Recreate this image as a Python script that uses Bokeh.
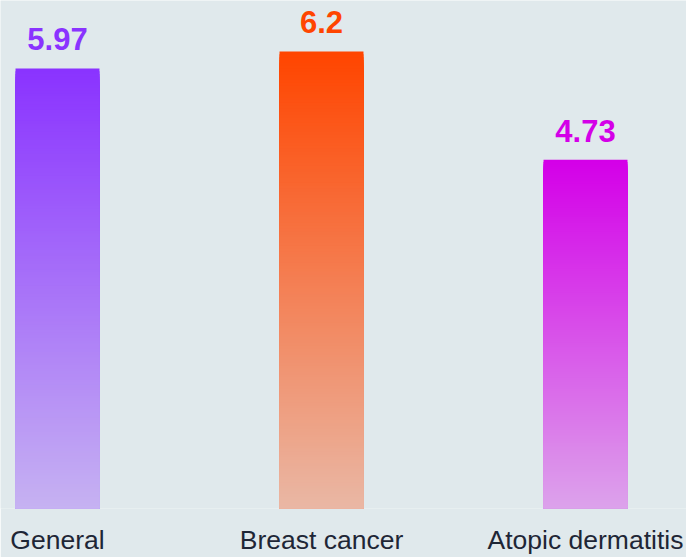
from bokeh.plotting import figure
from bokeh.models import ColumnDataSource, Range1d, FixedTicker
from bokeh.core.properties import value
from bokeh.embed import file_html
from bokeh.resources import INLINE

categories = ["General", "Breast cancer", "Atopic dermatitis"]
values = [5.97, 6.2, 4.73]
colors = ["#8a33ff", "#ff4500", "#d400e8"]
value_labels = ["5.97", "6.2", "4.73"]

BG = "#e0e9ec"
N_STEPS = 160
BAR_WIDTH = 0.318


def hex_to_rgb(h):
    h = h.lstrip("#")
    return tuple(int(h[i:i + 2], 16) for i in (0, 2, 4))


def blend(c, bg, a):
    r = [round(a * c[i] + (1 - a) * bg[i]) for i in range(3)]
    return "#%02x%02x%02x" % tuple(r)


bg_rgb = hex_to_rgb(BG)
xs, tops, fills = [], [], []
for i, (v, col) in enumerate(zip(values, colors)):
    c = hex_to_rgb(col)
    for k in range(N_STEPS - 1, -1, -1):
        frac = (k + 1) / N_STEPS
        a = 0.3 + 0.7 * frac
        xs.append(i)
        tops.append(v * frac)
        fills.append(blend(c, bg_rgb, a))

grad_src = ColumnDataSource(dict(x=xs, top=tops, color=fills))
lab_src = ColumnDataSource(dict(x=list(range(len(categories))), y=values,
                                text=value_labels, color=colors))

p = figure(width=686, height=557, output_backend="svg", toolbar_location=None,
           x_range=Range1d(-57 / 264, (686 - 57) / 264),
           y_range=Range1d(0, 512 / 74.3),
           y_axis_location=None,
           min_border_left=0, min_border_right=0, min_border_top=0,
           min_border_bottom=45)
p.background_fill_color = BG
p.border_fill_color = BG
p.outline_line_color = None
p.grid.visible = False

p.vbar(x="x", top="top", bottom=0, width=BAR_WIDTH, fill_color="color",
       line_color=None, source=grad_src)

p.text(x="x", y="y", text="text", text_color="color", source=lab_src,
       text_align="center", text_baseline="alphabetic", y_offset=-29,
       text_font=value("Liberation Sans"), text_font_style="bold",
       text_font_size="31px")

ax = p.xaxis[0]
ax.ticker = FixedTicker(ticks=list(range(len(categories))))
ax.major_label_overrides = {i: c for i, c in enumerate(categories)}
ax.axis_line_color = None
ax.major_tick_line_color = None
ax.minor_tick_line_color = None
ax.major_tick_out = 0
ax.major_tick_in = 0
ax.major_label_standoff = 16
ax.major_label_text_font = "Liberation Sans"
ax.major_label_text_font_size = "26.5px"
ax.major_label_text_color = "#1e2636"

open("out.html", "w").write(file_html(p, INLINE))
